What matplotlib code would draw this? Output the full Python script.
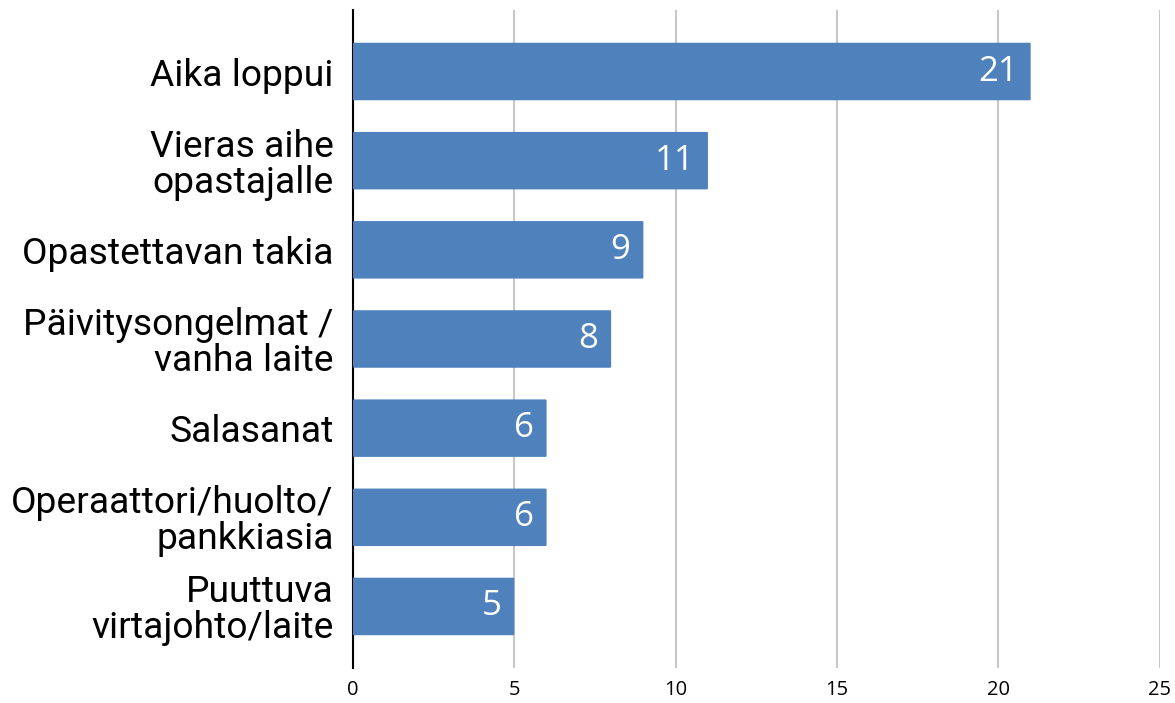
import matplotlib.pyplot as plt
from matplotlib.patches import FancyBboxPatch

categories = [
    "Aika loppui",
    "Vieras aihe\nopastajalle",
    "Opastettavan takia",
    "Päivitysongelmat /\nvanha laite",
    "Salasanat",
    "Operaattori/huolto/\npankkiasia",
    "Puuttuva\nvirtajohto/laite",
]
values = [21, 11, 9, 8, 6, 6, 5]
x_ticks = [0, 5, 10, 15, 20, 25]

BAR_COLOR = "#4F81BD"

fig = plt.figure(figsize=(11.75, 7.03), dpi=100)
ax = fig.add_axes([0.3004, 0.0498, 0.6866, 0.936])

bar_h = 0.645
positions = list(range(len(categories)))
for pos, val in zip(positions, values):
    patch = FancyBboxPatch(
        (0, pos - bar_h / 2), val, bar_h,
        boxstyle="round,pad=0,rounding_size=0.05",
        mutation_aspect=1 / 6,
        facecolor=BAR_COLOR, edgecolor="none", zorder=3,
    )
    ax.add_patch(patch)
    ax.text(val - 0.4, pos, str(val), ha="right", va="center",
            color="white", fontsize=25, family="Open Sans", zorder=4)

ax.set_xlim(0, 25)
ax.set_ylim(len(categories) - 1 + 0.69, -0.69)
ax.set_xticks(x_ticks)
ax.set_xticklabels([str(t) for t in x_ticks], family="Open Sans", fontsize=14.5)
ax.set_yticks(positions)
ax.set_yticklabels(categories, family="Roboto", fontsize=26.8, linespacing=1.0)

ax.grid(True, axis="x", color="#c8c8c8", linewidth=1.5, zorder=0)
for side in ["top", "right", "bottom"]:
    ax.spines[side].set_visible(False)
ax.spines["left"].set_color("black")
ax.spines["left"].set_linewidth(1.5)
ax.tick_params(axis="x", length=0, pad=9)
ax.tick_params(axis="y", length=0, pad=14)

fig.savefig("out.png", dpi=100)
